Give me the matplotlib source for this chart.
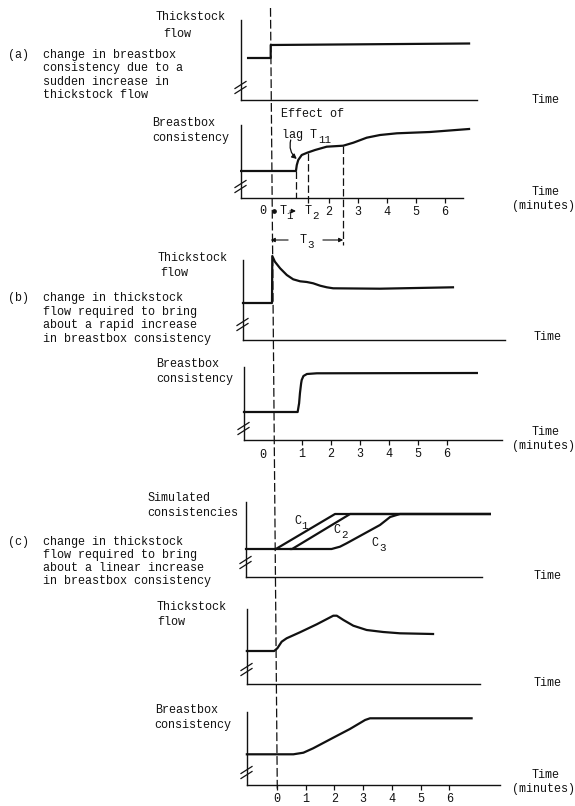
import matplotlib
matplotlib.use('Agg')
import matplotlib.pyplot as plt
from matplotlib.lines import Line2D

plt.rcParams['font.family'] = ['Liberation Mono', 'DejaVu Sans Mono']
plt.rcParams['font.size'] = 8.5

W, H = 575, 806
INK = '#111111'

# time in minutes, levels in arbitrary units
# (a) step increase in thickstock flow
a_flow_t = [-0.78, 0, 0, 6.84]
a_flow_y = [4.2, 4.2, 5.5, 5.65]
a_cons_t = [-1.02, 0.87, 0.90, 0.95, 1.07, 1.26, 1.53, 1.93, 2.50, 2.85, 3.31, 3.77, 4.35, 5.49, 6.84]
a_cons_y = [2.7, 2.7, 3.3, 3.8, 4.3, 4.53, 4.8, 5.13, 5.23, 5.53, 6.03, 6.3, 6.47, 6.6, 6.9]
T1, T2, T3 = 0.87, 1.27, 2.5
a_ticks = [2, 3, 4, 5, 6]

# (b) flow needed for a rapid increase
b_flow_t = [-1.0, 0.0, 0.01, 0.10, 0.28, 0.51, 0.73, 0.97, 1.20, 1.42, 1.66, 1.89, 2.11, 3.72, 6.24]
b_flow_y = [3.7, 3.7, 8.4, 7.83, 7.17, 6.5, 6.07, 5.87, 5.8, 5.67, 5.43, 5.27, 5.17, 5.13, 5.27]
b_cons_t = [-1.0, 0.85, 0.90, 0.93, 0.97, 0.99, 1.05, 1.17, 1.51, 7.03]
b_cons_y = [2.8, 2.8, 3.67, 4.7, 5.67, 6.0, 6.4, 6.6, 6.67, 6.7]
b_ticks = [1, 2, 3, 4, 5, 6]

# (c) flow needed for a linear increase
c1_t = [-1.0, 0.03, 2.07, 7.41]
c1_y = [2.8, 2.8, 6.3, 6.3]
c2_t = [0.03, 0.59, 2.59, 7.41]
c2_y = [2.8, 2.8, 6.3, 6.3]
c3_t = [0.55, 1.95, 2.24, 2.47, 3.62, 3.97, 4.31, 7.41]
c3_y = [2.8, 2.8, 3.03, 3.37, 5.2, 6.0, 6.3, 6.3]
c_flow_t = [-0.97, -0.03, 0.08, 0.23, 0.40, 0.86, 1.44, 2.01, 2.13, 2.36, 2.70, 3.16, 3.73, 4.31, 5.45]
c_flow_y = [3.3, 3.3, 3.57, 4.23, 4.57, 5.17, 5.97, 6.83, 6.83, 6.4, 5.83, 5.4, 5.2, 5.07, 5.0]
c_cons_t = [-1.05, 0.57, 0.92, 1.26, 1.96, 2.54, 3.07, 3.24, 6.78]
c_cons_y = [3.07, 3.07, 3.23, 3.67, 4.73, 5.6, 6.5, 6.67, 6.67]
c_ticks = [0, 1, 2, 3, 4, 5, 6]

fig = plt.figure(figsize=(W / 100, H / 100), dpi=100)


def fx(px):
    return px / W


def fy(py):
    return 1 - py / H


def panel(left, right, top, base, x0, s=29.0):
    ax = fig.add_axes([fx(left), fy(base), (right - left) / W, (base - top) / H])
    ax.set_xlim((left - x0) / s, (right - x0) / s)
    ax.set_ylim(0, (base - top) / 10)
    ax.spines['top'].set_visible(False)
    ax.spines['right'].set_visible(False)
    for side in ['left', 'bottom']:
        ax.spines[side].set_linewidth(1.0)
        ax.spines[side].set_color(INK)
    ax.set_xticks([])
    ax.set_yticks([])
    ax.patch.set_visible(False)
    return ax


def brk(x, y):
    # the little "//" break on the level axis
    for dy in (-2.5, 2.5):
        fig.add_artist(Line2D([fx(x - 6), fx(x + 5)], [fy(y + dy + 3), fy(y + dy - 4)],
                              lw=0.9, color=INK))


def label(x, y, s, **kw):
    fig.text(fx(x), fy(y), s, ha=kw.pop('ha', 'left'), va='center', color=INK, **kw)


def sub(ax, t, y, base, low):
    # typewriter style subscript: full-ish size, dropped half a line
    ax.text(t, y, base, ha='left', va='center', color=INK)
    ax.annotate(low, (t, y), xytext=(5.2 * len(base), -3.5), textcoords='offset points',
                ha='left', va='center', color=INK, fontsize=7.8, annotation_clip=False)


def curve(ax, t, y):
    ax.plot(t, y, color=INK, lw=1.6, solid_joinstyle='round', clip_on=False)


def ticks(ax, pos):
    ax.set_xticks(pos, [str(p) for p in pos])
    ax.tick_params(axis='x', direction='out', length=3.5, width=0.9, pad=2,
                   colors=INK, labelsize=8.5)


arrow = dict(arrowstyle='-|>', lw=0.8, color=INK, mutation_scale=6, shrinkA=0, shrinkB=0)

# ---------- (a) ----------
ax = panel(241, 477, 20, 100, 270.7)
curve(ax, a_flow_t, a_flow_y)
brk(241, 88)
label(156, 17, 'Thickstock')
label(163, 34, 'flow')
label(546, 100, 'Time', ha='center')
label(8, 55, '(a)')
for i, s in enumerate(['change in breastbox', 'consistency due to a',
                       'sudden increase in', 'thickstock flow']):
    label(43, 55 + 13.5 * i, s)

ax = panel(241, 463, 125, 198, 270.7)
curve(ax, a_cons_t, a_cons_y)
brk(241, 187)
ticks(ax, a_ticks)
label(152, 123, 'Breastbox')
label(152, 138, 'consistency')
label(546, 192, 'Time', ha='center')
label(543, 206, '(minutes)', ha='center')
dash = dict(color=INK, lw=0.9, ls=(0, (6, 2.5)), clip_on=False)
ax.plot([T1, T1], [2.7, 0], **dash)
ax.plot([T2, T2], [4.5, -0.5], **dash)
ax.plot([T3, T3], [5.2, -4.7], **dash)
ax.text(-0.27, -1.35, '0', ha='center', va='center', color=INK)
ax.plot([0.12], [-1.3], 'o', ms=2.4, color=INK, clip_on=False)
sub(ax, 0.3, -1.3, 'T', '1')
ax.annotate('', xy=(T1, -1.3), xytext=(0.66, -1.3), arrowprops=arrow, annotation_clip=False)
sub(ax, 1.17, -1.3, 'T', '2')
sub(ax, 1.0, -4.2, 'T', '3')
for a, b in [(0.6, 0), (1.8, T3)]:
    ax.annotate('', xy=(b, -4.2), xytext=(a, -4.2), arrowprops=arrow, annotation_clip=False)
ax.text(0.36, 8.4, 'Effect of', ha='left', va='center', color=INK)
sub(ax, 0.38, 6.3, 'lag T', '11')
ax.annotate('', xy=(0.9, 3.9), xytext=(0.69, 5.8),
            arrowprops=dict(arrow, lw=0.9, mutation_scale=7, connectionstyle='arc3,rad=0.3'),
            annotation_clip=False)

# ---------- (b) ----------
ax = panel(243, 505, 260, 340, 272)
curve(ax, b_flow_t, b_flow_y)
brk(243, 325)
label(158, 258, 'Thickstock')
label(160, 273, 'flow')
label(548, 337, 'Time', ha='center')
label(8, 298, '(b)')
for i, s in enumerate(['change in thickstock', 'flow required to bring',
                       'about a rapid increase', 'in breastbox consistency']):
    label(43, 298 + 13.7 * i, s)

ax = panel(244, 502, 367, 440, 273)
curve(ax, b_cons_t, b_cons_y)
brk(244, 429)
ticks(ax, b_ticks)
ax.text(-0.34, -1.45, '0', ha='center', va='center', color=INK)
label(156, 364, 'Breastbox')
label(156, 379, 'consistency')
label(546, 432, 'Time', ha='center')
label(543, 446, '(minutes)', ha='center')

# ---------- (c) ----------
ax = panel(246, 482, 502, 577, 275)
curve(ax, c1_t, c1_y)
curve(ax, c2_t, c2_y)
curve(ax, c3_t, c3_y)
brk(246, 563)
sub(ax, 0.66, 5.6, 'C', '1')
sub(ax, 2.03, 4.7, 'C', '2')
sub(ax, 3.34, 3.4, 'C', '3')
label(147, 498, 'Simulated')
label(147, 513, 'consistencies')
label(548, 576, 'Time', ha='center')
label(8, 542, '(c)')
for i, s in enumerate(['change in thickstock', 'flow required to bring',
                       'about a linear increase', 'in breastbox consistency']):
    label(43, 542 + 13 * i, s)

ax = panel(247, 480, 609, 684, 275)
curve(ax, c_flow_t, c_flow_y)
brk(247, 670)
label(157, 607, 'Thickstock')
label(157, 622, 'flow')
label(548, 683, 'Time', ha='center')

ax = panel(247, 500, 712, 785, 277, 28.7)
curve(ax, c_cons_t, c_cons_y)
brk(247, 773)
ticks(ax, c_ticks)
label(155, 710, 'Breastbox')
label(154, 725, 'consistency')
label(546, 775, 'Time', ha='center')
label(543, 789, '(minutes)', ha='center')

# time-zero reference line through all the sketches
fig.add_artist(Line2D([fx(270.5), fx(277.3)], [fy(8), fy(790)],
                      lw=0.9, color=INK, ls=(0, (7, 2.5))))

fig.savefig('out.png', dpi=100, facecolor='white')
